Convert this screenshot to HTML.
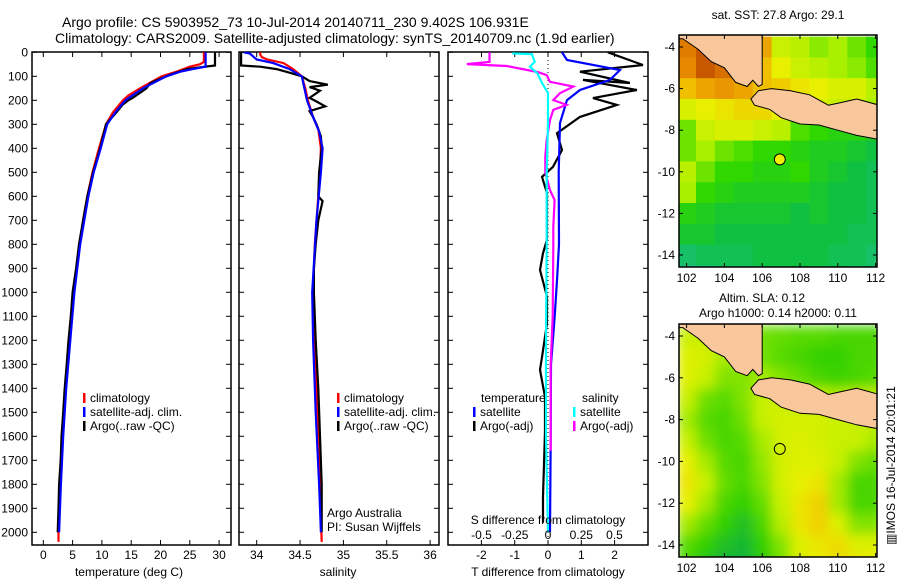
<!DOCTYPE html>
<html><head><meta charset="utf-8">
<style>
html,body{margin:0;padding:0;background:#fff;}
svg{display:block;font-family:"Liberation Sans",sans-serif;}
</style></head>
<body>
<svg id="fig" width="900" height="580" viewBox="0 0 900 580" xmlns="http://www.w3.org/2000/svg">
<defs>
<clipPath id="c1"><rect x="32" y="52" width="199" height="493"/></clipPath>
<clipPath id="c2"><rect x="239" y="52" width="200" height="493"/></clipPath>
<clipPath id="c3"><rect x="448" y="52" width="200" height="493"/></clipPath>
<clipPath id="cm1"><rect x="679" y="35" width="198" height="232"/></clipPath>
<clipPath id="cm2"><rect x="679" y="324" width="198" height="233"/></clipPath>
<filter id="blur2" x="-10%" y="-10%" width="120%" height="120%"><feGaussianBlur stdDeviation="6" edgeMode="duplicate"/></filter>
</defs>
<text x="62" y="27" font-size="14">Argo profile: CS 5903952_73 10-Jul-2014 20140711_230 9.402S 106.931E</text>
<text x="55" y="43" font-size="14">Climatology: CARS2009. Satellite-adjusted climatology: synTS_20140709.nc (1.9d earlier)</text>
<g id="g1"></g>
<g id="g2"></g>
<g id="g3"></g>
<g id="m1"></g>
<g id="m2"></g>
<text x="778" y="19" font-size="12" text-anchor="middle">sat. SST: 27.8 Argo: 29.1</text>
<text x="762" y="302" font-size="12" text-anchor="middle">Altim. SLA: 0.12</text>
<text x="778" y="317" font-size="12" text-anchor="middle">Argo h1000: 0.14 h2000: 0.11</text>
<text transform="translate(895,545) rotate(-90)" font-size="12">▥IMOS 16-Jul-2014 20:01:21</text>
</svg>
<script>
// ---- profile data ----
const tArgoDepth=[0,55,60,70,80,90,100,115,128,150,157,191,200,219,250,269,300,400,500,600,700,800,900,1000,1100,1200,1300,1400,1500,1600,1700,1800,1900,2000];
const tArgoVal=[29.3,29.3,27.6,24.5,23.3,22,21,19.5,18.3,17.6,17.2,15.2,14.5,13.5,12.5,11.8,10.7,9.7,8.5,7.5,6.8,6.1,5.6,5.0,4.7,4.3,4.0,3.65,3.4,3.1,2.97,2.7,2.6,2.45];
const tClimDepth=[0,40,50,60,80,100,150,180,200,250,300,400,500,600,700,800,900,1000,1200,1400,1600,1800,2000,2040];
const tClimVal=[27.4,27.4,26.7,25,22.8,20.2,16.5,14.5,13.6,11.9,10.7,9.5,8.4,7.5,6.8,6.2,5.7,5.1,4.4,3.75,3.2,2.85,2.6,2.6];
const tSatDepth=[0,60,70,80,100,150,200,250,300,400,500,600,700,800,900,1000,1200,1400,1600,1800,2000];
const tSatVal=[27.7,27.7,25.5,23.5,21.0,17.0,14.0,12.3,10.9,9.8,8.6,7.7,7.0,6.3,5.8,5.3,4.6,3.9,3.4,3.0,2.7];

const sArgoDepth=[0,55,60,70,85,100,120,135,145,160,190,205,225,245,270,300,350,400,500,600,620,700,800,900,1000,1200,1400,1600,1800,2000];
const sArgoVal=[33.82,33.82,34.04,34.23,34.38,34.52,34.61,34.82,34.61,34.73,34.61,34.69,34.79,34.61,34.65,34.69,34.74,34.75,34.72,34.71,34.76,34.71,34.68,34.66,34.66,34.68,34.71,34.73,34.75,34.75];
const sClimDepth=[0,10,20,30,45,70,100,150,200,270,320,400,500,600,800,1000,1400,2040];
const sClimVal=[34.04,34.04,34.06,34.12,34.31,34.42,34.52,34.56,34.59,34.65,34.71,34.74,34.73,34.71,34.67,34.65,34.69,34.75];
const sSatDepth=[0,5,30,45,70,100,150,200,270,330,400,500,700,1000,1200,1500,1800,2000];
const sSatVal=[33.85,33.92,34.0,34.19,34.38,34.52,34.55,34.58,34.65,34.72,34.76,34.74,34.69,34.64,34.65,34.68,34.72,34.74];

const dTSatDepth=[0,32,74,115,157,199,295,500,800,950,1100,1300,1600,2000];
const dTSatVal=[0.42,0.57,2.16,1.86,0.96,0.57,0.36,0.32,0.33,0.27,0.2,0.09,0.08,0.06];
const dTArgoDepth=[0,53,81,128,115,157,191,219,269,337,407,477,519,587,780,837,907,1018,1130,1270,1323,1436,1580,1853,1960];
const dTArgoVal=[1.8,2.85,0.96,2.46,1.05,2.67,1.35,2.07,0.96,0.27,0.42,0.15,-0.18,-0.03,-0.03,-0.15,-0.24,-0.03,-0.03,-0.18,-0.24,-0.09,-0.09,-0.15,-0.15];
const dSSatDepth=[0,5,8,40,60,88,128,170,295,500,800,1200,1600,2000];
const dSSatVal=[-0.26,-0.26,-0.12,-0.10,-0.135,-0.08,-0.045,0,0,-0.01,-0.01,-0.015,-0.015,0];
const dSArgoDepth=[0,40,49,57,82,95,123,143,170,199,219,240,282,365,435,500,574,616,727,810,1100,1300,1500,1660];
const dSArgoVal=[-0.44,-0.44,-0.61,-0.31,-0.08,-0.01,0.015,0.19,0.09,0.04,0.14,0.04,0.015,-0.01,-0.02,-0.02,0.015,0.05,0.04,0.04,0.035,0.02,0.02,0.02];

const depthTicks=[0,100,200,300,400,500,600,700,800,900,1000,1100,1200,1300,1400,1500,1600,1700,1800,1900,2000];
const tempTicks=[0,5,10,15,20,25,30];
const salTicks=[34,34.5,35,35.5,36];
const salTickLabels=["34","34.5","35","35.5","36"];
const dTTicks=[-2,-1,0,1,2];
const dSTicks=[-0.5,-0.25,0,0.25,0.5];
const dSTickLabels=["-0.5","-0.25","0","0.25","0.5"];

// ---- map data ----
const mapLons=[102,103,104,105,106,107,108,109,110,111,112];
const mapLats=[-4,-5,-6,-7,-8,-9,-10,-11,-12,-13,-14,-15];
const sstGrid=[
[29.5,29.8,29.6,29.4,29.2,28.4,28.3,28.1,28.2,28.0,27.8],
[29.4,29.8,29.6,29.3,29.0,28.6,28.4,28.3,28.2,28.1,27.9],
[29.0,29.2,29.3,29.2,29.0,28.9,28.7,28.6,28.5,28.5,28.3],
[28.5,28.6,28.7,28.8,28.8,28.6,28.5,28.5,28.4,28.3,28.2],
[28.0,28.4,28.5,28.5,28.4,28.3,27.9,27.8,27.7,27.7,27.6],
[28.0,28.2,28.0,27.9,27.8,27.8,27.7,27.6,27.6,27.5,27.4],
[28.3,28.0,27.8,27.8,27.7,27.7,27.8,27.6,27.5,27.4,27.3],
[28.2,27.8,27.7,27.6,27.6,27.6,27.6,27.5,27.4,27.4,27.3],
[27.7,27.6,27.5,27.5,27.5,27.5,27.4,27.5,27.4,27.4,27.3],
[27.5,27.5,27.4,27.4,27.4,27.4,27.4,27.4,27.4,27.3,27.3],
[27.2,27.3,27.3,27.3,27.4,27.4,27.4,27.4,27.3,27.3,27.2],
[27.0,27.1,27.2,27.2,27.3,27.3,27.4,27.3,27.3,27.2,27.2]];
const slaGrid=[
[0.10,0.10,0.09,0.08,0.05,0.04,0.03,0.03,0.02,0.02,0.02],
[0.12,0.11,0.08,0.07,0.05,0.03,0.02,0.00,0.00,0.02,0.02],
[0.12,0.10,0.06,0.06,0.08,0.06,0.04,0.02,0.01,0.02,0.03],
[0.10,0.05,0.03,0.06,0.10,0.10,0.10,0.10,0.09,0.10,0.10],
[0.08,0.03,0.02,0.05,0.10,0.11,0.11,0.11,0.10,0.10,0.10],
[0.10,0.05,0.02,0.03,0.08,0.11,0.12,0.11,0.10,0.10,0.08],
[0.13,0.08,0.03,0.02,0.07,0.11,0.12,0.12,0.10,0.06,0.04],
[0.14,0.10,0.04,0.02,0.06,0.11,0.13,0.14,0.08,0.02,0.02],
[0.13,0.08,0.02,0.00,0.04,0.10,0.14,0.16,0.08,0.02,0.02],
[0.08,0.04,0.00,-0.02,0.02,0.09,0.14,0.16,0.12,0.06,0.06],
[0.03,0.00,-0.02,-0.03,0.00,0.06,0.12,0.14,0.15,0.12,0.12],
[0.02,-0.02,-0.04,-0.04,-0.01,0.05,0.12,0.13,0.15,0.14,0.13]];
const sumatraLon=[101.5,106.0,106.0,105.8,105.5,105.2,104.6,104.0,103.3,102.6,101.8,101.5];
const sumatraLat=[-3.4,-3.4,-5.8,-5.9,-5.6,-5.9,-5.7,-5.0,-4.7,-4.1,-3.6,-3.6];
const javaLon=[105.8,106.5,107.5,108.5,109.5,110.0,111.0,112.2,112.2,111.0,110.0,109.0,108.0,107.0,106.4,105.6,105.4];
const javaLat=[-6.1,-6.0,-6.1,-6.3,-6.8,-6.7,-6.5,-6.8,-8.45,-8.25,-8.0,-7.75,-7.7,-7.4,-7.0,-6.8,-6.5];
const argoLon=106.931, argoLat=-9.402;
const mapLonTicks=[102,104,106,108,110,112];
const mapLatTicks=[-4,-6,-8,-10,-12,-14];

const NS="http://www.w3.org/2000/svg";
function mk(tag,attrs,parent){const e=document.createElementNS(NS,tag);for(const k in attrs)e.setAttribute(k,attrs[k]);parent.appendChild(e);return e;}
const yD=d=>52.3+0.24*d;
const xT=t=>43.3+5.86*t;
const xS=s=>256.7+86.7*(s-34);
const xDT=v=>548+33.3*v;
const xDS=v=>548+133*v;

function frame(g,x,y,w,h,name){
  const r=mk('rect',{x:x,y:y,width:w,height:h,fill:'none',stroke:'#000','stroke-width':1.5},g);
  
  
}
function line(g,depths,vals,xf,color,clip,name){
  const pts=depths.map((d,i)=>xf(vals[i]).toFixed(1)+','+yD(d).toFixed(1)).join(' ');
  const p=mk('polyline',{points:pts,fill:'none',stroke:color,'stroke-width':2.2,'clip-path':'url(#'+clip+')'},g);
  
  
}
function yTicks(g,x0,x1){
  depthTicks.forEach(d=>{const y=yD(d);
    mk('line',{x1:x0,y1:y,x2:x0+5,y2:y,stroke:'#000'},g);
    mk('line',{x1:x1-5,y1:y,x2:x1,y2:y,stroke:'#000'},g);});
}
function xTicksAt(g,xs,top,bottom){
  xs.forEach(x=>{
    if(bottom!==null) mk('line',{x1:x,y1:bottom,x2:x,y2:bottom-5,stroke:'#000'},g);
    if(top!==null) mk('line',{x1:x,y1:top,x2:x,y2:top+5,stroke:'#000'},g);});
}
function text(g,x,y,s,name,anchor,size){
  const t=mk('text',{x:x,y:y,'font-size':size||12,'text-anchor':anchor||'start'},g);
  t.textContent=s;
  
  
  return t;
}
function legend(g,x,y,color,label,name){
  mk('rect',{x:x,y:y-9,width:2.5,height:10,fill:color},g);
  text(g,x+7,y,label,name);
}

// Panel 1
const g1=document.getElementById('g1');
frame(g1,32,52,199,493,'temperature-axes');
yTicks(g1,32,231);
depthTicks.forEach(d=>text(g1,28,yD(d)+4,String(d),'depth-tick-label','end'));
xTicksAt(g1,tempTicks.map(xT),52,545);
tempTicks.forEach(t=>text(g1,xT(t),559,String(t),'temp-tick-label','middle'));
text(g1,129,576,'temperature (deg C)','temperature-axis-title','middle');
line(g1,tClimDepth,tClimVal,xT,'#f00','c1','temp-climatology-line');
line(g1,tArgoDepth,tArgoVal,xT,'#000','c1','temp-argo-line');
line(g1,tSatDepth,tSatVal,xT,'#00f','c1','temp-satellite-line');
legend(g1,83,402,'#f00','climatology','legend-climatology');
legend(g1,83,416,'#00f','satellite-adj. clim.','legend-satellite');
legend(g1,83,430,'#000','Argo(..raw -QC)','legend-argo');

// Panel 2
const g2=document.getElementById('g2');
frame(g2,239,52,200,493,'salinity-axes');
yTicks(g2,239,439);
xTicksAt(g2,salTicks.map(xS),52,545);
salTicks.forEach((s,i)=>text(g2,xS(s),559,salTickLabels[i],'salinity-tick-label','middle'));
text(g2,338,576,'salinity','salinity-axis-title','middle');
line(g2,sClimDepth,sClimVal,xS,'#f00','c2','sal-climatology-line');
line(g2,sArgoDepth,sArgoVal,xS,'#000','c2','sal-argo-line');
line(g2,sSatDepth,sSatVal,xS,'#00f','c2','sal-satellite-line');
legend(g2,337,402,'#f00','climatology','legend-climatology');
legend(g2,337,416,'#00f','satellite-adj. clim.','legend-satellite');
legend(g2,337,430,'#000','Argo(..raw -QC)','legend-argo');
text(g2,327,517,'Argo Australia','argo-australia-label');
text(g2,327,531,'PI: Susan Wijffels','pi-label');

// Panel 3
const g3=document.getElementById('g3');
frame(g3,448,52,200,493,'difference-axes');
yTicks(g3,448,648);
xTicksAt(g3,dTTicks.map(xDT),null,545);
xTicksAt(g3,dSTicks.map(xDS),52,null);
mk('line',{x1:548,y1:52,x2:548,y2:545,stroke:'#000','stroke-dasharray':'1,3'},g3);
line(g3,dTArgoDepth,dTArgoVal,xDT,'#000','c3','dT-argo-line');
line(g3,dTSatDepth,dTSatVal,xDT,'#00f','c3','dT-satellite-line');
line(g3,dSArgoDepth,dSArgoVal,xDS,'#f0f','c3','dS-argo-line');
line(g3,dSSatDepth,dSSatVal,xDS,'#0ff','c3','dS-satellite-line');
text(g3,481,402,'temperature','legend-temperature-heading');
legend(g3,473,416,'#00f','satellite','legend-t-satellite');
legend(g3,473,430,'#000','Argo(-adj)','legend-t-argo');
text(g3,582,402,'salinity','legend-salinity-heading');
legend(g3,573,416,'#0ff','satellite','legend-s-satellite');
legend(g3,573,430,'#f0f','Argo(-adj)','legend-s-argo');
text(g3,548,524,'S difference from climatology','s-diff-axis-title','middle');
dSTicks.forEach((v,i)=>text(g3,xDS(v),539,dSTickLabels[i],'s-diff-tick-label','middle'));
dTTicks.forEach(v=>text(g3,xDT(v),559,String(v),'t-diff-tick-label','middle'));
text(g3,548,576,'T difference from climatology','t-diff-axis-title','middle');

// Maps
function hex(c){return '#'+c.map(v=>Math.round(v).toString(16).padStart(2,'0')).join('');}
function cmap(v,stops,cols){
  if(v<=stops[0])return hex(cols[0]);
  for(let i=1;i<stops.length;i++){if(v<=stops[i]){const f=(v-stops[i-1])/(stops[i]-stops[i-1]);return hex(cols[i-1].map((c,k)=>c+(cols[i][k]-c)*f));}}
  return hex(cols[cols.length-1]);
}
const sstStops=[27.0,27.4,27.8,28.2,28.6,29.0,29.4,29.8];
const sstCols=[[30,192,140],[16,192,64],[48,216,0],[168,240,0],[232,240,0],[240,192,0],[232,136,0],[200,88,0]];
const slaStops=[-0.04,0.0,0.05,0.1,0.13,0.16,0.2];
const slaCols=[[16,176,64],[48,208,0],[112,224,0],[200,240,0],[232,240,0],[240,208,0],[240,176,0]];
function drawMap(gid,top,bottom,grid,stops,cols,filled,cid,smooth){
  const g=document.getElementById(gid);
  const lx=l=>686.6+18.9*(l-102);
  const ly=l=>top+12+(bottom-top-24)/10*(-4-l);
  const cw=18.9, ch=(bottom-top-24)/10;
  const cg=mk('g',{'clip-path':'url(#'+cid+')'},g);
  const cells=mk('g',smooth?{filter:'url(#blur2)'}:{},cg);
  grid.forEach((row,r)=>row.forEach((v,c)=>{
    const cell=mk('rect',{x:(lx(mapLons[c])-cw/2).toFixed(1),y:(ly(mapLats[r])-ch/2).toFixed(1),width:(cw+0.5).toFixed(1),height:(ch+0.5).toFixed(1),fill:cmap(v,stops,cols)},cells);
    
    
  }));
  const poly=(lons,lats,name)=>{
    const p=mk('polygon',{points:lons.map((l,i)=>lx(l).toFixed(1)+','+ly(lats[i]).toFixed(1)).join(' '),fill:'#f8c89c',stroke:'#000','stroke-width':1},cg);
    
    
  };
  poly(sumatraLon,sumatraLat,'sumatra-land');
  poly(javaLon,javaLat,'java-land');
  const m=mk('circle',{cx:lx(argoLon),cy:ly(argoLat),r:5.5,fill:filled?'#f0f000':'none',stroke:'#000','stroke-width':1},g);
  
  
  frame(g,679,top,198,bottom-top,'map-frame');
  mapLonTicks.forEach(l=>{const x=lx(l);
    mk('line',{x1:x,y1:bottom,x2:x,y2:bottom-4,stroke:'#000'},g);
    mk('line',{x1:x,y1:top,x2:x,y2:top+4,stroke:'#000'},g);
    text(g,x,bottom+15,String(l),'map-lon-label','middle');});
  mapLatTicks.forEach(l=>{const y=ly(l);
    mk('line',{x1:679,y1:y,x2:683,y2:y,stroke:'#000'},g);
    mk('line',{x1:873,y1:y,x2:877,y2:y,stroke:'#000'},g);
    text(g,675,y+4,String(l),'map-lat-label','end');});
}
drawMap('m1',35,267,sstGrid,sstStops,sstCols,true,'cm1',false);
drawMap('m2',324,557,slaGrid,slaStops,slaCols,false,'cm2',true);
</script>
</body></html>
